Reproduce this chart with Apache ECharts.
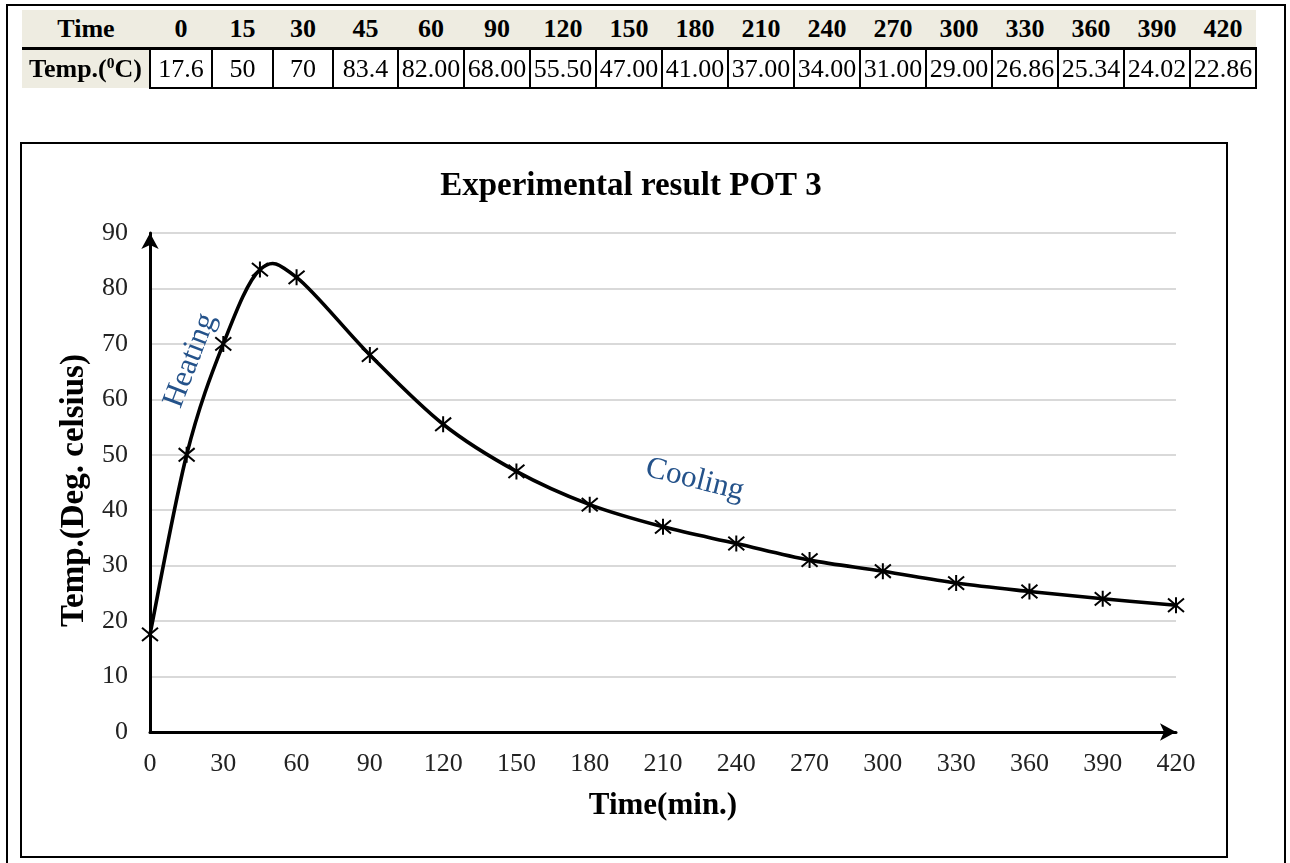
<!DOCTYPE html>
<html>
<head>
<meta charset="utf-8">
<script src="https://cdn.jsdelivr.net/npm/echarts@6/dist/echarts.min.js"></script>
<style>
  html, body { margin: 0; padding: 0; width: 1290px; height: 863px; overflow: hidden; background: #fff; }
  #chart { position: absolute; left: 0; top: 0; width: 1290px; height: 863px; }
  .frame { position: absolute; box-sizing: border-box; pointer-events: none; }
  #outer { left: 6px; top: 4px; width: 1280px; height: 900px; border: 2px solid #000; }
  #box { left: 20px; top: 142px; width: 1208px; height: 716px; border: 2px solid #000; }
  #tbl { position: absolute; left: 22px; top: 10px; border-collapse: collapse; table-layout: fixed;
         font-family: "Liberation Serif", "Times New Roman", serif; font-size: 26px; color: #000; }
  #tbl td { padding: 0; text-align: center; white-space: nowrap; overflow: hidden; }
  #tbl tr.h td { background: #EEECE1; font-weight: bold; height: 37px; border-bottom: 3px solid #000; }
  #tbl tr.v td { height: 37px; border: 2px solid #000; line-height: 34px; }
  #tbl tr.v td.lab { background: #EEECE1; font-weight: bold; border-left: none; border-bottom: none; }
  sup { font-size: 60%; vertical-align: 0.55em; line-height: 0; }
</style>
</head>
<body>
<div id="chart"></div>
<div id="outer" class="frame"></div>
<div id="box" class="frame"></div>
<table id="tbl"></table>
<script>
// ---- data ----
const timeLabel = 'Time';
const tempLabel = 'Temp.(<sup>0</sup>C)';
const times = [0, 15, 30, 45, 60, 90, 120, 150, 180, 210, 240, 270, 300, 330, 360, 390, 420];
const temps = [17.6, 50, 70, 83.4, 82.00, 68.00, 55.50, 47.00, 41.00, 37.00, 34.00, 31.00, 29.00, 26.86, 25.34, 24.02, 22.86];
const tempText = ['17.6', '50', '70', '83.4', '82.00', '68.00', '55.50', '47.00', '41.00', '37.00', '34.00', '31.00', '29.00', '26.86', '25.34', '24.02', '22.86'];
const chartTitle = 'Experimental result POT 3';
const xName = 'Time(min.)';
const yName = 'Temp.(Deg. celsius)';
const notes = [
  { text: 'Heating', at: [16.5, 67] },
  { text: 'Cooling', at: [223, 45.5] }
];

// ---- table (layout constants) ----
const colW = [128, 62, 61, 60, 65, 66, 66, 66, 66, 66, 66, 66, 66, 66, 66, 66, 66, 66];
(function buildTable() {
  const t = document.getElementById('tbl');
  let cg = '<colgroup>' + colW.map(w => '<col style="width:' + w + 'px">').join('') + '</colgroup>';
  let h = '<tr class="h"><td>' + timeLabel + '</td>' + times.map(v => '<td>' + v + '</td>').join('') + '</tr>';
  let r = '<tr class="v"><td class="lab">' + tempLabel + '</td>' + tempText.map(v => '<td>' + v + '</td>').join('') + '</tr>';
  t.innerHTML = cg + h + r;
  t.style.width = colW.reduce((a, b) => a + b, 0) + 'px';
})();

// ---- chart ----
const FONT = '"Liberation Serif", "Times New Roman", serif';
const chart = echarts.init(document.getElementById('chart'), null, { renderer: 'canvas' });
const starPath = 'path://M0,0L10,10M10,0L0,10M5,-1L5,11';
const pts = times.map((t, i) => [t, temps[i]]);

// Excel-style smoothed segment (Bezier with neighbour tangents / 6)
function renderSegment(params, api) {
  const i = params.dataIndex;
  if (i >= pts.length - 1) return null;
  const P = k => api.coord(pts[Math.max(0, Math.min(pts.length - 1, k))]);
  const p0 = P(i - 1), p1 = P(i), p2 = P(i + 1), p3 = P(i + 2);
  const t = 1 / 6;
  return {
    type: 'bezierCurve',
    shape: {
      x1: p1[0], y1: p1[1], x2: p2[0], y2: p2[1],
      cpx1: p1[0] + (p2[0] - p0[0]) * t, cpy1: p1[1] + (p2[1] - p0[1]) * t,
      cpx2: p2[0] - (p3[0] - p1[0]) * t, cpy2: p2[1] - (p3[1] - p1[1]) * t
    },
    style: { stroke: '#000', lineWidth: 3.6, fill: null, lineCap: 'round' },
    silent: true
  };
}

chart.setOption({
  backgroundColor: 'transparent',
  animation: false,
  title: {
    text: chartTitle, left: 626, top: 165, textAlign: 'center',
    textStyle: { fontFamily: FONT, fontSize: 33, fontWeight: 'bold', color: '#000' }
  },
  grid: { left: 150, right: 114, top: 233, bottom: 131, containLabel: false },
  xAxis: {
    type: 'value', min: 0, max: 420, interval: 30,
    name: xName, nameLocation: 'middle', nameGap: 58,
    nameTextStyle: { fontFamily: FONT, fontSize: 31, fontWeight: 'bold', color: '#000' },
    axisLine: { show: true, symbol: ['none', 'arrow'], symbolSize: [13, 16], lineStyle: { color: '#000', width: 3 } },
    axisTick: { show: false },
    splitLine: { show: false },
    axisLabel: { fontFamily: FONT, fontSize: 26, color: '#222', margin: 19 }
  },
  yAxis: {
    type: 'value', min: 0, max: 90, interval: 10,
    name: yName, nameLocation: 'middle', nameGap: 52, nameRotate: 90,
    nameTextStyle: { fontFamily: FONT, fontSize: 33, fontWeight: 'bold', color: '#000', padding: [0, 16, 0, 0] },
    axisLine: { show: true, symbol: ['none', 'arrow'], symbolSize: [13, 16], lineStyle: { color: '#000', width: 3 } },
    axisTick: { show: false },
    splitLine: { show: true, lineStyle: { color: '#d9d9d9', width: 2 } },
    axisLabel: { fontFamily: FONT, fontSize: 26, color: '#222', margin: 22 }
  },
  series: [{
    type: 'custom',
    data: pts,
    renderItem: renderSegment,
    clip: false,
    z: 3
  }, {
    type: 'scatter',
    data: pts,
    symbol: starPath,
    symbolSize: 16,
    itemStyle: { color: '#000', borderColor: '#000', borderWidth: 2, opacity: 1 },
    z: 4
  }]
});

const g = notes.map((n, i) => {
  const p = chart.convertToPixel({ gridIndex: 0 }, n.at);
  return {
    type: 'text', x: p[0], y: p[1], rotation: i === 0 ? 69 * Math.PI / 180 : -14 * Math.PI / 180,
    z: 10,
    style: {
      text: n.text, fill: '#24528A', fontFamily: FONT, fontSize: 31, fontStyle: 'normal', fontWeight: 'normal',
      align: 'center', verticalAlign: 'middle'
    }
  };
});
chart.setOption({ graphic: g });
</script>
</body>
</html>
